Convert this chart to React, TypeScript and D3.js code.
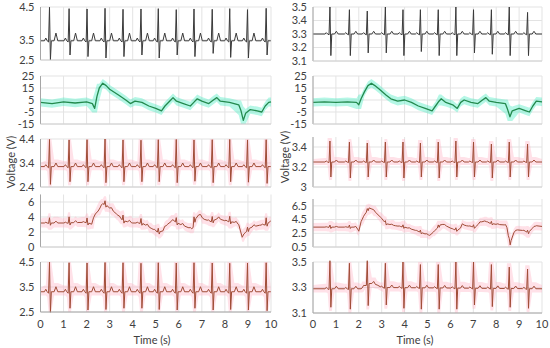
import * as d3 from 'd3';

type Pt = [number, number];

// time axis
const timeTicks = [0, 1, 2, 3, 4, 5, 6, 7, 8, 9, 10];

// R-peak times (s)
const beatsLeft = [0.39, 1.24, 2.02, 2.8, 3.58, 4.36, 5.11, 5.89, 6.66, 7.45, 8.21, 8.98, 9.79];
const beatsRight = [0.74, 1.59, 2.37, 3.16, 3.93, 4.69, 5.47, 6.24, 7.01, 7.79, 8.57, 9.37];

// row 1 (black)
const peaksL1 = [4.49, 4.45, 4.44, 4.46, 4.43, 4.44, 4.45, 4.42, 4.44, 4.43, 4.45, 4.42, 4.46];
const troughsL1 = [2.5, 2.75, 2.67, 2.6, 2.67, 2.75, 2.6, 2.75, 2.67, 2.83, 2.63, 2.6, 2.75];
const baseL1: Pt[] = [[0, 3.46], [10, 3.46]];
const peaksR1 = [3.5, 3.48, 3.47, 3.5, 3.48, 3.48, 3.48, 3.5, 3.48, 3.48, 3.5, 3.46];
const troughsR1 = [3.14, 3.14, 3.16, 3.16, 3.14, 3.17, 3.14, 3.14, 3.16, 3.15, 3.14, 3.14];
const baseR1: Pt[] = [[0, 3.3], [10, 3.3]];

// row 2 (green)
const greenL: Pt[] = [
  [0, 3], [0.5, 2], [1.0, 3.5], [1.5, 2.5], [2.0, 3.5], [2.25, 2], [2.35, -2], [2.45, 8], [2.55, 15],
  [2.7, 19], [2.85, 17], [3.0, 14], [3.4, 9], [3.7, 5], [3.9, 2], [4.1, 4], [4.4, 3], [4.7, 0],
  [5.0, -2], [5.25, -4], [5.4, 0], [5.6, 4], [5.75, 7], [5.9, 4], [6.2, 2], [6.5, 0], [6.65, 3],
  [6.8, 6], [7.0, 4], [7.3, 2], [7.5, 5], [7.65, 7], [7.8, 4], [8.2, 3], [8.6, 1], [8.7, -4],
  [8.8, -12], [8.9, -6], [9.1, -3], [9.4, -4], [9.6, -5], [9.75, 0], [9.9, 3], [10, 3.5],
];
const greenR: Pt[] = [
  [0, 3], [0.5, 3.5], [1.0, 3], [1.5, 3.5], [1.9, 3], [2.0, 1], [2.1, 6], [2.25, 12], [2.4, 17],
  [2.55, 19], [2.7, 17], [2.9, 14], [3.2, 9], [3.4, 6], [3.7, 4], [4.0, 5], [4.3, 3], [4.6, 0],
  [4.9, -2], [5.2, -4], [5.35, 0], [5.5, 4], [5.6, 6], [5.8, 3], [6.1, 1], [6.3, -2], [6.45, 3],
  [6.6, 5], [6.9, 3], [7.2, 2], [7.4, 5], [7.55, 7], [7.7, 4], [8.0, 3], [8.4, 2], [8.5, -3],
  [8.6, -9], [8.7, -4], [9.0, -2], [9.3, -4], [9.45, -5], [9.6, 0], [9.75, 4], [10, 3.5],
];

// row 3 (red spikes)
const peaksL3 = [4.38, 4.36, 4.37, 4.4, 4.36, 4.35, 4.37, 4.38, 4.36, 4.37, 4.38, 4.36, 4.37];
const troughsL3 = [2.51, 2.62, 2.62, 2.58, 2.62, 2.62, 2.62, 2.58, 2.64, 2.58, 2.62, 2.6, 2.55];
const baseL3: Pt[] = [[0, 3.25], [10, 3.25]];
const peaksR3 = [3.46, 3.45, 3.44, 3.45, 3.45, 3.44, 3.45, 3.46, 3.45, 3.43, 3.45, 3.43];
const troughsR3 = [3.1, 3.09, 3.1, 3.1, 3.09, 3.1, 3.09, 3.1, 3.1, 3.09, 3.1, 3.1];
const baseR3: Pt[] = [[0, 3.25], [10, 3.25]];

// row 4 (red, wandering baseline)
const baseL4: Pt[] = [
  [0, 3.2], [1.0, 3.2], [2.0, 3.3], [2.25, 3.0], [2.35, 4.3], [2.5, 4.8], [2.7, 5.8], [2.85, 5.6],
  [3.0, 5.2], [3.3, 4.4], [3.6, 3.5], [4.0, 3.2], [4.4, 3.2], [4.8, 2.5], [5.1, 2.0], [5.3, 2.1],
  [5.5, 3.0], [5.75, 3.6], [6.0, 3.1], [6.4, 2.6], [6.6, 2.4], [6.7, 3.6], [6.85, 4.3], [7.1, 3.7],
  [7.4, 3.4], [7.7, 3.8], [8.0, 3.5], [8.4, 3.3], [8.6, 3.0], [8.75, 1.3], [8.9, 2.0], [9.1, 2.6],
  [9.5, 2.9], [9.8, 3.0], [10, 3.5],
];
const spikeUpL4 = [0.7, 0.8, 0.6, 0.5, 0.7, 0.6, 0.5, 0.6, 0.9, 0.6, 0.7, 0.4, 0.9];
const spikeDownL4 = [0.3, 0.3, 0.3, 0.3, 0.3, 0.3, 0.3, 0.3, 0.3, 0.3, 0.3, 0.3, 0.3];
const baseR4: Pt[] = [
  [0, 3.4], [1.0, 3.4], [1.9, 3.4], [2.0, 2.8], [2.1, 4.2], [2.25, 5.2], [2.45, 6.2], [2.6, 6.0],
  [2.9, 5.0], [3.2, 3.9], [3.6, 3.6], [4.0, 3.4], [4.5, 2.9], [4.9, 2.4], [5.1, 2.2], [5.3, 2.8],
  [5.6, 3.9], [5.8, 3.6], [6.1, 3.1], [6.4, 2.9], [6.5, 3.8], [6.7, 3.6], [7.1, 3.4], [7.3, 4.1],
  [7.5, 4.3], [7.7, 4.0], [8.0, 3.8], [8.45, 3.7], [8.55, 1.8], [8.6, 0.9], [8.75, 2.5], [8.9, 3.0],
  [9.2, 2.9], [9.4, 2.6], [9.6, 3.3], [9.75, 3.6], [10, 3.5],
];
const spikeUpR4 = [0.3, 0.3, 0.3, 0.3, 0.3, 0.3, 0.3, 0.3, 0.3, 0.3, 0.3, 0.3];
const spikeDownR4 = [0.2, 0.2, 0.2, 0.2, 0.2, 0.2, 0.2, 0.2, 0.2, 0.2, 0.2, 0.2];

// row 5 (red spikes)
const peaksL5 = [4.49, 4.47, 4.46, 4.48, 4.47, 4.45, 4.47, 4.46, 4.47, 4.46, 4.45, 4.46, 4.47];
const troughsL5 = [2.49, 2.65, 2.58, 2.6, 2.65, 2.65, 2.6, 2.58, 2.65, 2.58, 2.6, 2.58, 2.55];
const baseL5: Pt[] = [[0, 3.31], [10, 3.31]];
const peaksR5 = [3.51, 3.49, 3.51, 3.49, 3.5, 3.48, 3.48, 3.5, 3.5, 3.48, 3.46, 3.445];
const troughsR5 = [3.145, 3.13, 3.155, 3.163, 3.137, 3.13, 3.13, 3.13, 3.163, 3.15, 3.145, 3.137];
const baseR5: Pt[] = [[0, 3.29], [2.1, 3.29], [2.3, 3.32], [2.5, 3.335], [2.8, 3.32], [3.0, 3.3], [10, 3.29]];

const LEFT: [number, number] = [40.5, 271];
const RIGHT: [number, number] = [313, 542];
const FONT = 'Lato, "Open Sans", sans-serif';

// one heartbeat: offset (s) and which part of the complex
const TEMPLATE: [number, string][] = [
  [-0.22, '0'], [-0.16, 'P'], [-0.1, '0'], [-0.04, 'Q'], [0, 'R'], [0.04, 'S'],
  [0.08, '0'], [0.2, '0'], [0.28, 'T'], [0.36, '0'],
];

function ecg(beats: number[], knots: Pt[], up: (i: number, b: number) => number,
  down: (i: number, b: number) => number, pAmp: number, tAmp: number): Pt[] {
  const base = d3.scaleLinear().domain(knots.map((d) => d[0])).range(knots.map((d) => d[1])).clamp(true);
  const pts: Pt[] = knots.filter(([t]) => !beats.some((b) => t > b - 0.22 && t < b + 0.36));
  beats.forEach((b, i) => {
    TEMPLATE.forEach(([off, k]) => {
      const t = b + off;
      if (t < 0 || t > 10) return;
      const v = base(t);
      const delta = k === 'P' ? pAmp : k === 'T' ? tAmp : k === 'Q' ? -pAmp * 0.6
        : k === 'R' ? up(i, base(b)) : k === 'S' ? -down(i, base(b)) : 0;
      pts.push([t, v + delta]);
    });
  });
  return pts.sort((a, b) => a[0] - b[0]);
}

const absUp = (peaks: number[]) => (i: number, b: number) => peaks[i] - b;
const absDown = (troughs: number[]) => (i: number, b: number) => b - troughs[i];
const rel = (arr: number[]) => (i: number) => arr[i];

function envelope(pts: Pt[], win: number, pad: number) {
  return pts.map(([t]) => {
    const near = pts.filter((p) => Math.abs(p[0] - t) <= win).map((p) => p[1]);
    return {t, lo: d3.min(near)! - pad, hi: d3.max(near)! + pad};
  });
}

type PanelProps = {
  xr: [number, number];
  domain: number[];
  range: number[];
  ticks: number[];
  trace: Pt[];
  stroke: string;
  width?: number;
  band?: {win: number; pad: number; fill: string; opacity: number};
  bottomAxis?: boolean;
};

function Panel({xr, domain, range, ticks, trace, stroke, width = 1, band, bottomAxis}: PanelProps) {
  const x = d3.scaleLinear().domain([0, 10]).range(xr);
  const y = d3.scaleLinear().domain(domain).range(range);
  const top = d3.min(range)!;
  const bot = d3.max(range)!;
  const line = d3.line<Pt>().x((d) => x(d[0])).y((d) => y(d[1]));
  let bandPath: string | null = null;
  if (band) {
    const env = envelope(trace, band.win, band.pad);
    bandPath = d3.area<{t: number; lo: number; hi: number}>()
      .x((d) => x(d.t))
      .y0((d) => Math.min(bot, y(d.lo)))
      .y1((d) => Math.max(top, y(d.hi)))(env);
  }
  return (
    <g>
      {timeTicks.map((t) => (
        <line key={'v' + t} x1={x(t)} x2={x(t)} y1={top} y2={bot} stroke="#e3e3e3" strokeWidth={1} />
      ))}
      {ticks.map((v) => (
        <line key={'h' + v} x1={xr[0]} x2={xr[1]} y1={y(v)} y2={y(v)} stroke="#e3e3e3" strokeWidth={1} />
      ))}
      {bandPath && <path d={bandPath} fill={band!.fill} fillOpacity={band!.opacity} />}
      <path d={line(trace)!} fill="none" stroke={stroke} strokeWidth={width} strokeLinejoin="round" />
      <line x1={xr[0]} x2={xr[0]} y1={top} y2={bot} stroke="#a6a6a6" strokeWidth={1} />
      <line x1={xr[0]} x2={xr[1]} y1={bot} y2={bot} stroke={bottomAxis ? '#a6a6a6' : '#d0d0d0'} strokeWidth={1} />
      {ticks.map((v) => (
        <text key={'t' + v} x={xr[0] - 6} y={y(v)} dy="0.35em" textAnchor="end" fontSize={11}
          fill="#404040" fontFamily={FONT}>{+v.toFixed(2)}</text>
      ))}
      {bottomAxis && timeTicks.map((t) => (
        <text key={'x' + t} x={x(t)} y={324} dy="0.35em" textAnchor="middle" fontSize={11}
          fill="#404040" fontFamily={FONT}>{t}</text>
      ))}
    </g>
  );
}

const BLACK = '#3a3a3a';
const GREEN = '#238a4e';
const RED = '#a04c36';
const cyanBand = {win: 0.12, pad: 3.5, fill: '#45ecc0', opacity: 0.4};
const pinkBand = (pad: number, win = 0.1) => ({win, pad, fill: '#ffb0c2', opacity: 0.38});

export default function App() {
  const l1 = ecg(beatsLeft, baseL1, absUp(peaksL1), absDown(troughsL1), 0.1, 0.25);
  const r1 = ecg(beatsRight, baseR1, absUp(peaksR1), absDown(troughsR1), 0.01, 0.02);
  const l3 = ecg(beatsLeft, baseL3, absUp(peaksL3), absDown(troughsL3), 0.08, 0.15);
  const r3 = ecg(beatsRight, baseR3, absUp(peaksR3), absDown(troughsR3), 0.01, 0.02);
  const l4 = ecg(beatsLeft, baseL4, rel(spikeUpL4), rel(spikeDownL4), 0.1, 0.25);
  const r4 = ecg(beatsRight, baseR4, rel(spikeUpR4), rel(spikeDownR4), 0.05, 0.1);
  const l5 = ecg(beatsLeft, baseL5, absUp(peaksL5), absDown(troughsL5), 0.1, 0.2);
  const r5 = ecg(beatsRight, baseR5, absUp(peaksR5), absDown(troughsR5), 0.01, 0.02);

  return (
    <svg width={550} height={348} style={{position: 'absolute', left: 0, top: 0, background: '#fff'}}>
      <Panel xr={LEFT} domain={[2.5, 3.5, 4.5]} range={[60, 40, 7]} ticks={[2.5, 3.5, 4.5]} trace={l1} stroke={BLACK} />
      <Panel xr={RIGHT} domain={[3.1, 3.5]} range={[61, 7]} ticks={[3.1, 3.2, 3.3, 3.4, 3.5]} trace={r1} stroke={BLACK} />

      <Panel xr={LEFT} domain={[-15, 25]} range={[124, 76]} ticks={[-15, -5, 5, 15, 25]} trace={greenL}
        stroke={GREEN} width={1.3} band={cyanBand} />
      <Panel xr={RIGHT} domain={[-15, 25]} range={[124, 76]} ticks={[-15, -5, 5, 15, 25]} trace={greenR}
        stroke={GREEN} width={1.3} band={cyanBand} />

      <Panel xr={LEFT} domain={[2.4, 4.4]} range={[187, 139]} ticks={[2.4, 3.4, 4.4]} trace={l3} stroke={RED}
        band={pinkBand(0.15)} />
      <Panel xr={RIGHT} domain={[3, 3.5]} range={[187, 137]} ticks={[3, 3.2, 3.4]} trace={r3} stroke={RED}
        band={pinkBand(0.03)} />

      <Panel xr={LEFT} domain={[0, 7]} range={[247, 194.5]} ticks={[0, 2, 4, 6]} trace={l4} stroke={RED}
        band={pinkBand(0.6, 0.08)} />
      <Panel xr={RIGHT} domain={[0.5, 7.5]} range={[247, 199]} ticks={[0.5, 2.5, 4.5, 6.5]} trace={r4} stroke={RED}
        band={pinkBand(0.6, 0.08)} />

      <Panel xr={LEFT} domain={[2.5, 4.5]} range={[312, 262]} ticks={[2.5, 3.5, 4.5]} trace={l5} stroke={RED}
        band={pinkBand(0.15)} bottomAxis />
      <Panel xr={RIGHT} domain={[3.1, 3.5]} range={[313, 262]} ticks={[3.1, 3.3, 3.5]} trace={r5} stroke={RED}
        band={pinkBand(0.03)} bottomAxis />

      <text transform="translate(11,162) rotate(-90)" textAnchor="middle" dy="0.35em" fontSize={11}
        fill="#404040" fontFamily={FONT}>Voltage (V)</text>
      <text transform="translate(285,157) rotate(-90)" textAnchor="middle" dy="0.35em" fontSize={11}
        fill="#404040" fontFamily={FONT}>Voltage (V)</text>
      <text x={152} y={340} dy="0.35em" textAnchor="middle" fontSize={11} fill="#404040" fontFamily={FONT}>Time (s)</text>
      <text x={415} y={340} dy="0.35em" textAnchor="middle" fontSize={11} fill="#404040" fontFamily={FONT}>Time (s)</text>
    </svg>
  );
}
